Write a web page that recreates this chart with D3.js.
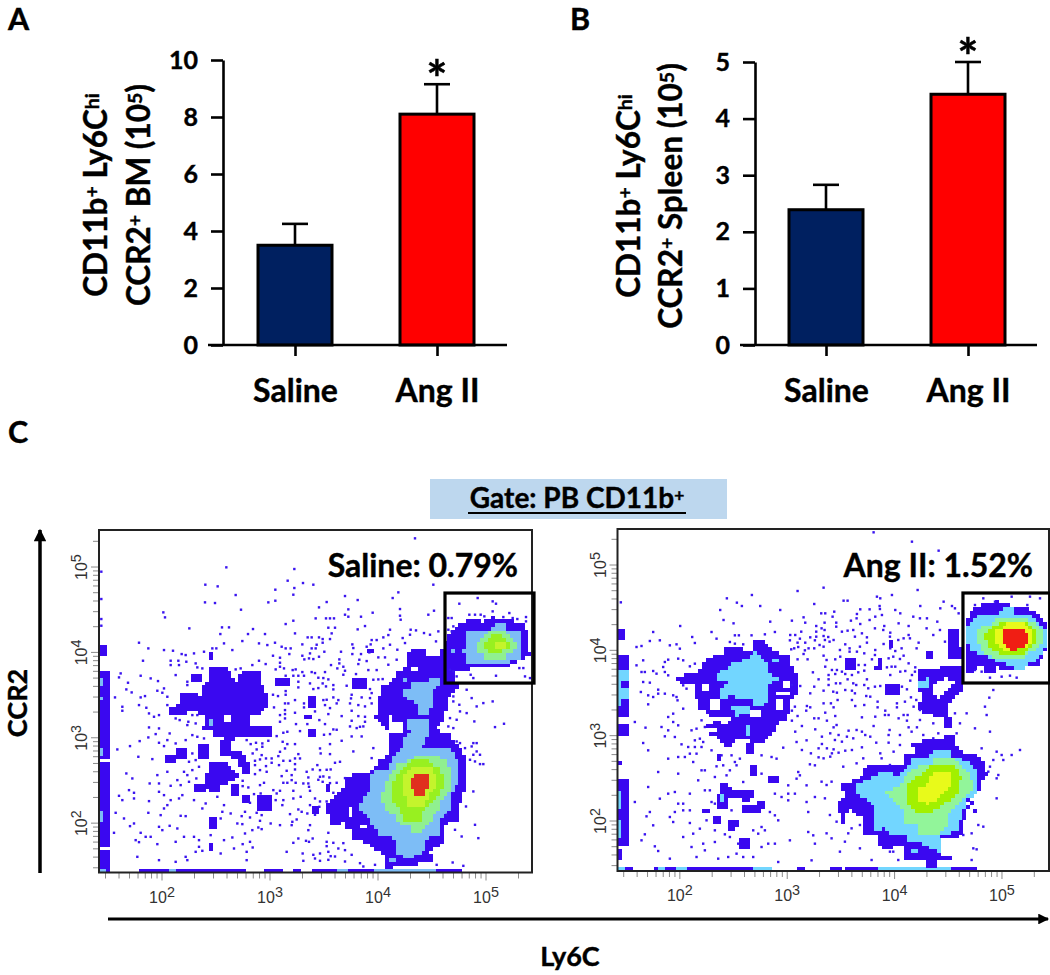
<!DOCTYPE html>
<html>
<head>
<meta charset="utf-8">
<script src="https://cdnjs.cloudflare.com/ajax/libs/d3/7.8.5/d3.min.js"></script>
<style>
  html, body { margin: 0; background: #fff; }
  text { font-family: Lato, "Open Sans", sans-serif; font-weight: 700; fill: #000; stroke: #000; stroke-width: 0.4px; }
  .flowtick text { font-family: "Liberation Sans", Arial, sans-serif; font-weight: 400; fill: #333; stroke: none; }
</style>
</head>
<body>
<div id="chart"></div>
<script>
const width = 1050
const height = 975

// bar panels
const groups = ["Saline", "Ang II"]
const bmMeans = [3.5, 8.1]
const bmTops = [4.25, 9.15]
const bmTicks = [0, 2, 4, 6, 8, 10]
const spleenMeans = [2.39, 4.43]
const spleenTops = [2.83, 5.0]
const spleenTicks = [0, 1, 2, 3, 4, 5]
const barColors = ["#002060", "#ff0000"]

// flow panels: everything below is in log channels (3 channels = 1 screen px)
const decades = [2, 3, 4, 5]

const salineTickX = [189, 513, 837, 1161]
const salineTickY = [148, 406, 664, 916]
const salineGate = [1038, 568, 1305, 838]

// [[x,y],[x,y]] with two points is a box
const salineDark = [
  [[2,602],[30,337]], [[2,327],[30,127]], [[2,127],[30,82]], [[2,62],[28,12]], [[2,677],[18,652]],
  [[126,0],[214,10]], [[235,0],[395,12]], [[395,0],[445,10]], [[493,0],[545,10]], [[581,0],[607,10]], [[641,0],[720,10]], [[751,0],[824,12]], [[1017,0],[1086,10]], [[2,0],[38,10]],
  [[212,492],[240,507],[248,539],[270,542],[305,532],[310,557],[332,572],[332,615],[385,619],[405,572],[415,572],[420,592],[440,605],[485,602],[487,562],[510,532],[512,502],[495,492],[510,485],[480,477],[450,465],[445,437],[405,435],[402,407],[400,352],[360,352],[358,387],[375,402],[340,402],[335,427],[310,429],[320,475],[270,482],[258,475],[212,475]],
  [[405,405],[515,435]],
  [[400,362],[430,357],[452,319],[455,302],[428,302],[420,332],[395,347]],
  [[335,329],[365,335],[390,317],[415,297],[405,272],[360,265],[360,247],[330,245],[315,267],[315,292],[332,302]],
  [[290,245],[318,262]], [[395,227],[422,259]], [[428,209],[448,232]], [[468,192],[512,227]], [[328,137],[350,167]],
  [[198,335],[230,357]], [[235,337],[265,369]], [[295,337],[335,382]], [[275,572],[305,597]], [[530,562],[568,587]],
  [[630,492],[650,532]], [[612,459],[638,475]], [[630,404],[645,432]], [[330,635],[340,657]], [[640,177],[650,192]], [[328,67],[345,92]],
  [[761,546],[801,583]], [[641,178],[658,198]], [[678,243],[695,260]], [[801,656],[828,666]],
  [[923,663],[953,673],[978,668],[985,653],[1018,650],[1033,683],[1048,708],[1083,743],[1108,758],[1153,753],[1183,765],[1233,760],[1273,743],[1288,708],[1293,653],[1263,638],[1228,620],[1183,620],[1153,618],[1103,608],[1065,598],[1078,558],[1053,533],[1038,483],[1023,438],[998,428],[1058,418],[1063,388],[1093,368],[1101,298],[1093,228],[1078,198],[1083,163],[1038,143],[1028,88],[993,68],[998,33],[858,13],[858,48],[808,88],[763,103],[758,133],[693,148],[681,208],[733,253],[733,288],[813,298],[843,343],[873,353],[863,438],[823,463],[843,498],[833,513],[853,558],[883,573],[888,598],[918,613]]
]
const salineHoles = [
  [[751,168],[763,193]], [[728,133],[741,153]], [[778,128],[798,140]], [[873,423],[908,446]], [[933,603],[958,620]], [[868,448],[885,478]],
  [[450,440],[500,452]], [[470,462],[495,472]], [[372,455],[392,470]]
]
const salineLight = [
  [[2,565],[12,587]], [[2,515],[12,532]], [[2,355],[12,369]], [[2,157],[12,192]], [[335,443],[345,459]], [[2,0],[22,10]],
  [[214,0],[235,10]], [[720,0],[751,10]], [[824,0],[1017,10]],
  [[923,458],[995,460],[995,428],[978,398],[973,378],[1058,368],[1078,338],[1078,278],[1058,228],[1058,198],[1023,158],[1018,108],[983,103],[978,68],[948,48],[925,48],[895,53],[895,103],[838,108],[838,123],[803,168],[785,188],[785,208],[813,248],[813,298],[868,313],[883,348],[908,378],[908,408],[933,418]],
  [[873,33],[895,48]],
  [[996,586],[1018,586],[1018,563],[998,548],[995,478],[958,478],[948,513],[908,533],[908,543],[933,553],[933,573],[973,568]],
  [[913,573],[923,586]],
  [[1191,748],[1218,748],[1218,730],[1263,730],[1265,693],[1271,638],[1228,638],[1228,623],[1153,623],[1153,628],[1098,628],[1098,653],[1091,668],[1105,683],[1105,728],[1148,728],[1191,733]],
  [[1058,660],[1068,675]]
]
const salineMint = [
  [[945,353],[1018,353],[1018,338],[1045,338],[1058,293],[1053,248],[1021,208],[1018,188],[975,128],[935,123],[935,143],[898,148],[883,178],[858,188],[848,223],[863,278],[883,308],[903,333],[945,338]],
  [[1171,728],[1218,728],[1218,713],[1243,708],[1255,678],[1228,658],[1213,638],[1158,638],[1153,658],[1128,668],[1141,703],[1168,713]]
]
const salineGreen = [
  [[945,338],[983,338],[1018,316],[1035,293],[1033,258],[1018,228],[995,213],[968,178],[968,158],[915,156],[908,178],[883,218],[883,268],[895,298],[923,326]],
  [[1178,710],[1213,710],[1233,690],[1228,673],[1203,661],[1173,660],[1158,673],[1158,693]]
]
const salineYellow = [
  [[943,316],[995,316],[1018,288],[1008,253],[985,228],[983,198],[925,193],[923,228],[908,253],[908,288]],
  [[1190,676],[1218,693]]
]
const salineRed = [
  [[948,300],[995,298],[993,268],[978,248],[973,228],[951,228],[935,258],[935,278]]
]
const salineEvents = [
  [583,833],[738,829],[776,817],[683,811],[660,795],[748,789],[738,773],[748,767],[786,767],[821,779],[650,762],[681,762],[693,762],[705,762],[688,755],[583,755],[560,745],[798,739],[688,734],[708,734],[776,729],[588,717],[698,717],[626,705],[638,705],[660,705],[671,700],[693,700],[853,705],[868,712],[818,697],[833,697],[671,689],[610,684],[528,689],[760,684],[815,684],[548,677],[560,672],[575,672],[638,672],[650,672],[803,677],[853,672],[543,672],[676,662],[726,662],[633,657],[571,655],[522,650],[543,644],[610,650],[643,640],[660,647],[616,639],[721,639],[760,655],[786,655],[838,645],[803,634],[858,645],[543,629],[721,627],[778,625],[696,622],[733,617],[715,612],[543,617],[581,607],[610,601],[638,601],[678,601],[738,605],[771,595],[808,607],[833,607],[560,590],[583,590],[598,590],[615,590],[658,584],[688,579],[838,579],[598,572],[633,567],[671,567],[703,562],[743,560],[560,544],[598,555],[643,550],[703,549],[813,550],[522,533],[537,529],[560,533],[703,525],[588,517],[615,507],[558,507],[568,507],[673,517],[718,517],[756,522],[788,525],[615,495],[678,502],[713,507],[753,507],[525,495],[558,487],[778,502],[818,507],[588,479],[688,475],[758,485],[558,475],[543,472],[558,462],[728,469],[778,469],[798,467],[543,452],[661,457],[758,455],[591,445],[625,445],[678,445],[798,452],[703,429],[783,437],
  [533,409],[553,419],[565,422],[603,424],[693,415],[675,413],[728,395],[443,397],[455,385],[471,389],[508,395],[551,392],[558,387],[588,385],[565,385],[663,372],[693,385],[473,369],[558,372],[543,362],[665,357],[693,355],[461,357],[488,352],[538,349],[598,355],[588,342],[468,335],[483,339],[501,342],[518,342],[553,335],[573,335],[603,342],[723,332],[708,329],[518,329],[468,322],[588,325],[501,319],[655,322],[641,309],[663,307],[695,309],[483,307],[503,302],[563,305],[588,309],[623,302],[468,295],[548,289],[578,292],[628,285],[663,287],[691,285],[713,269],[431,275],[483,262],[495,269],[553,269],[565,269],[578,277],[671,272],[613,267],[628,267],[431,259],[448,255],[523,247],[543,245],[583,245],[633,245],[703,239],[465,235],[533,237],[553,217],[583,222],[605,227],[648,222],[453,209],[551,215],[633,202],[661,197],[438,182],[473,179],[488,172],[598,189],[608,182],[573,175],[593,159],[428,169],[453,165],[483,155],[468,172],[578,142],[633,142],[628,127],[543,142],[515,147],[478,135],[488,130],[438,117],[688,119],[453,92],[431,85],[598,102],[621,95],[641,102],[683,92],[683,79],[703,89],[461,75],[583,89],[563,62],[611,57],[443,62],[663,57],[648,42],[663,35],[688,62],[695,49],[718,72],[738,67],[613,35],[443,37],
  [120,689],[148,672],[195,667],[222,665],[248,655],[260,652],[285,657],[315,662],[340,672],[352,672],[375,687],[400,667],[430,694],[480,687],[505,682],[545,677],[570,675],[608,685],[630,655],[215,635],[238,635],[262,632],[290,627],[132,635],[215,622],[240,622],[295,615],[310,612],[410,609],[425,612],[460,622],[480,635],[500,625],[530,609],[555,612],[590,609],[612,589],[630,642],[65,597],[60,585],[125,590],[155,582],[177,574],[87,569],[230,592],[265,572],[265,562],[195,552],[175,545],[82,549],[98,540],[125,525],[48,525],[138,529],[205,527],[190,539],[70,497],[70,485],[120,502],[142,494],[205,502],[150,477],[165,467],[180,472],[230,462],[242,457],[268,452],[280,472],[265,442],[295,472],[290,447],[150,435],[180,432],[212,417],[170,415],[148,405],[122,394],[93,379],[55,369],[118,347],[160,340],[205,397],[230,387],[280,412],[295,407],[260,397],[315,402],[195,379],[180,389],[280,357],[270,332],[290,337],[280,307],[265,292],[255,302],[300,317],[82,297],[100,282],[175,292],[205,302],[152,267],[180,267],[245,262],[215,260],[235,277],[270,272],[292,282],[60,230],[70,217],[90,247],[105,239],[105,222],[150,214],[180,242],[195,232],[215,217],[240,222],[250,232],[285,217],[205,202],[195,192],[50,179],[148,179],[75,162],[105,147],[93,139],[185,172],[245,170],[260,169],[310,192],[320,207],[355,227],[375,202],[370,182],[395,177],[365,162],[415,147],[430,145],[180,137],[212,140],[190,127],[235,132],[125,119],[140,107],[45,119],[110,97],[120,91],[155,107],[175,85],[230,92],[225,85],[255,107],[285,107],[300,97],[335,112],[340,107],[375,97],[400,105],[440,119],[460,127],[480,132],[515,147],[543,140],[580,152],[115,47],[180,37],[230,32],[260,47],[265,37],[290,62],[310,65],[300,77],[365,57],[405,72],[450,92],[460,77],[435,37],[565,65],[595,102],[620,97],[630,92],[610,55],[615,37],[625,127],[575,142],[490,387],[490,377],[510,342],[555,392],[570,377],[590,382],[595,352],[595,342],[540,322],[560,302],[580,297],[620,302],[630,287],[570,267],[590,269],[630,257],[540,247],[525,247],[485,237],[470,242],[530,217],[550,202],[560,217],[600,192],[575,177],[580,147],[625,177],
  [1003,863],[898,840],[881,823],[736,830],[776,818],[681,813],[660,796],[748,790],[738,773],[748,768],[820,778],[788,768],[648,763],[681,763],[693,763],[705,763],[686,736],[708,733],[776,728],[858,710],[873,728],[903,790],[903,770],[905,758],[988,773],[993,768],[1005,785],[935,728],[951,726],[1018,723],[975,718],[993,713],[1011,693],[933,713],[911,703],[838,703],[823,698],[813,688],[803,683],[758,683],[763,673],[661,708],[671,693],[688,703],[698,718],[641,703],[653,683],[648,673],[725,663],[683,658],[811,660],[858,648],[895,668],[918,688],[873,683],[893,638],[868,623],[833,638],[838,613],[805,628],[781,638],[693,623],[721,638],[733,618],[708,608],[733,593],[648,598],[673,583],[693,578],[658,553],[681,558],[703,558],[813,553],[843,583],[823,578],[851,580],[738,558],[708,533],[683,518],[723,518],[813,523],[818,538],[758,533],[748,508],[773,498],[798,498],[723,468],[693,493],[668,458],[648,483],[683,438],[713,428],[753,438],[773,433],[793,438],[758,408],[788,408],[753,448],[663,378],[693,388],[723,388],[763,363],[823,373],[818,343],[663,358],[693,353],[718,333],[683,308],[643,308],[658,278],[693,268],[738,283],[673,288],[643,223],[663,213],[683,213],[648,173],[633,138],[683,88],[688,68],[698,93],[733,88],[758,53],[643,53],[658,38],[688,38],[708,48],[738,33],[783,28],[793,18],[828,23],[1013,23],[1061,30],[1093,20],[1101,198],[1123,243],[1128,143],[1138,103],[1088,108],[1068,128],[1043,173],[1073,458],[1118,523],[1133,498],[1153,508],[1181,513],[1188,436],[1215,446],[1126,453],[1103,478],[1083,483],[1063,513],[1081,503],[1103,548],[1063,528],[1123,388],[1133,388],[1133,363],[1143,353],[1153,325],[1143,325],[1128,333],[1113,338],[1123,353],[1073,393],[1083,388],[1098,373],[1118,378],[1063,433],[1053,463],[1048,438],
  [1136,823],[1081,806],[1181,813],[1191,806],[1181,783],[1173,778],[1231,778],[1111,773],[1128,773],[1145,773],[1156,768],[1213,766],[1241,763],[1255,760],[1281,766],[1281,753],[1273,758],[1058,763],[1048,763],[1063,738],[1058,723],[1048,728],[1273,613],[1261,613],[1278,588],[1293,583],[1123,583],[1191,590],[1115,593],[1073,588],[1053,608],[1063,603],
  [948,1002],[586,910],[382,915],[7,902],[319,863],[356,858],[529,848],[566,875],[612,868],[643,863],[586,853],[7,820],[410,832],[318,810],[348,808],[426,788],[508,810],[529,815],[193,780],[198,765],[736,830],[680,817],[659,798],[747,790],[1005,863],[897,843],[881,825],[772,820],[685,765],[705,765],[648,765],[560,750],[581,760],[7,760],[7,740],[902,790],[990,775],
  [271,732],[369,735],[390,735],[462,730],[498,715],[364,715],[447,715],[121,692]
]

const angTickX = [187, 508, 829, 1153]
const angTickY = [150, 408, 663, 918]
const angGate = [1036, 564, 1297, 834]

const angDark = [
  [[2,690],[17,722]], [[2,457],[28,650]], [[2,404],[28,442]], [[2,314],[14,327]], [[2,82],[28,277]], [[2,32],[16,62]],
  [[23,0],[40,10]], [[112,0],[122,10]], [[144,0],[172,10]], [[210,0],[412,12]], [[538,0],[566,10]], [[638,0],[666,10]], [[678,0],[783,10]], [[1003,0],[1048,10]], [[1048,0],[1076,6]],
  [[174,579],[207,594],[254,602],[262,637],[322,654],[322,667],[362,667],[407,660],[407,687],[427,697],[447,677],[470,657],[517,647],[522,612],[542,587],[544,542],[522,522],[517,487],[502,457],[482,442],[457,402],[432,387],[397,390],[362,397],[332,372],[317,377],[302,397],[272,412],[267,437],[292,447],[332,442],[342,460],[282,464],[247,487],[232,532],[232,557],[207,562],[182,567]],
  [[384,354],[412,382]], [[292,334],[310,352]], [[392,282],[422,314]], [[454,264],[482,287]],
  [[307,264],[332,262],[337,244],[367,242],[402,247],[412,222],[387,212],[337,227],[332,192],[297,192],[297,227],[307,232]],
  [[367,192],[412,197],[432,215],[442,212],[440,192],[407,170],[370,174]],
  [[250,172],[280,192]], [[284,139],[312,167]], [[332,157],[357,157],[370,147],[352,122],[332,127]], [[367,67],[400,100]],
  [[982,403],[1007,403],[1007,378],[1027,368],[1032,348],[1077,348],[1102,328],[1107,288],[1087,268],[1082,233],[1047,208],[1052,193],[1032,128],[1027,103],[972,98],[967,48],[1002,43],[992,33],[912,28],[862,38],[857,78],[812,68],[782,73],[779,108],[737,113],[735,158],[692,188],[677,143],[657,208],[682,218],[672,258],[732,283],[742,313],[802,323],[852,313],[857,348],[892,348],[882,388],[947,393]],
  [[1052,773],[1072,793],[1107,800],[1142,810],[1197,793],[1247,783],[1282,748],[1287,678],[1267,623],[1207,606],[1147,606],[1132,620],[1129,593],[1102,590],[1097,618],[1077,620],[1069,588],[1042,590],[1042,708]],
  [[992,723],[1019,723],[1019,678],[1035,658],[1027,636],[992,638]],
  [[932,670],[957,636],[917,636]],
  [[897,608],[967,603],[972,618],[1032,618],[1039,558],[1017,523],[992,503],[997,468],[962,460],[907,483],[905,508],[919,518],[905,548],[897,573]],
  [[979,428],[997,463]],
  [[807,528],[847,563]], [[685,603],[714,633]], [[769,606],[797,620]], [[786,620],[796,636]], [[809,676],[825,693]],
  [[1052,196],[1067,208]], [[1062,175],[1077,188]], [[927,13],[959,30]]
]
const angHoles = [
  [[254,540],[272,564]], [[277,487],[307,517]], [[397,460],[432,482]], [[470,532],[514,544]], [[497,552],[514,567]], [[277,422],[297,427]], [[472,487],[492,512]], [[432,647],[462,654]],
  [[947,558],[982,583],[1012,568],[997,546],[957,518],[947,538]]
]
const angLight = [
  [[2,570],[28,602]], [[2,547],[14,570]], [[2,514],[28,547]], [[2,494],[14,514]], [[2,182],[14,242]], [[2,102],[12,152]],
  [[0,0],[18,10]], [[122,0],[144,10]], [[172,0],[210,10]], [[412,0],[460,10]], [[783,0],[1003,10]],
  [[344,622],[392,637],[404,657],[427,652],[432,637],[454,617],[457,587],[487,587],[487,572],[454,564],[454,517],[434,500],[407,500],[402,514],[357,514],[354,530],[307,517],[304,547],[322,550],[327,567],[294,572],[294,597],[327,602]],
  [[344,497],[392,497],[392,477],[362,477],[360,460],[347,477]],
  [[467,622],[487,637]],
  [[377,442],[390,442],[404,404],[390,404],[390,422]],
  [[304,210],[317,227]],
  [[942,368],[999,368],[1002,346],[1047,333],[1077,298],[1077,228],[1047,213],[1032,168],[1022,123],[967,103],[965,53],[907,88],[872,88],[867,113],[817,113],[772,148],[767,198],[712,238],[712,258],[737,268],[792,298],[847,288],[887,338],[942,348]],
  [[879,50],[902,68]], [[772,123],[792,138]],
  [[1155,796],[1185,796],[1185,773],[1247,763],[1272,733],[1287,723],[1287,678],[1267,638],[1219,618],[1217,606],[1187,606],[1185,620],[1147,623],[1132,636],[1092,653],[1052,660],[1047,728],[1072,763],[1127,773],[1152,778]],
  [[907,548],[932,570]], [[929,570],[940,586]]
]
const angMint = [
  [[942,336],[1007,336],[1047,308],[1065,268],[1062,238],[1032,213],[992,178],[992,143],[962,113],[907,113],[902,138],[857,148],[852,188],[797,238],[842,253],[869,288],[897,313],[942,318]],
  [[1135,763],[1212,763],[1247,748],[1272,728],[1272,678],[1232,653],[1207,638],[1147,636],[1102,653],[1075,693],[1087,733],[1135,748]]
]
const angGreen = [
  [[942,315],[1012,315],[1029,283],[1027,238],[997,213],[947,183],[907,173],[869,203],[869,258],[897,283]],
  [[1147,746],[1227,746],[1259,723],[1259,688],[1217,653],[1157,650],[1117,668],[1099,708],[1117,728]]
]
const angYellow = [
  [[952,300],[1002,300],[1002,268],[982,238],[952,213],[932,198],[907,213],[907,248],[932,268],[939,283]],
  [[1175,746],[1212,746],[1242,728],[1247,683],[1197,663],[1152,663],[1132,686],[1132,718],[1152,733]]
]
const angRed = [
  [[1162,730],[1212,730],[1235,708],[1232,680],[1202,673],[1197,661],[1175,661],[1172,676],[1152,683],[1152,713]]
]
const angEvents = [
  [540,840],[823,828],[778,823],[788,818],[678,811],[690,811],[590,801],[786,795],[756,785],[833,783],[650,778],[611,773],[623,773],[718,771],[645,763],[558,761],[773,763],[793,768],[756,753],[700,751],[523,751],[563,745],[621,745],[656,745],[728,741],[800,735],[843,743],[873,735],[596,735],[656,733],[621,723],[596,718],[690,721],[673,718],[733,713],[818,715],[873,708],[551,718],[533,708],[518,708],[596,703],[578,701],[596,698],[618,705],[648,693],[748,701],[858,698],[636,688],[563,685],[540,685],[606,678],[748,685],[683,680],[798,681],[903,685],[521,665],[590,668],[573,668],[618,673],[696,668],[833,660],[530,668],[718,658],[740,653],[773,663],[793,673],[558,651],[618,646],[818,668],[858,646],[696,658],[668,643],[540,635],[570,635],[653,635],[763,635],[813,638],[873,623],[808,611],[623,613],[643,603],[658,603],[673,598],[723,618],[833,613],[863,600],[586,596],[740,601],[893,611],[653,591],[633,588],[683,591],[703,588],[603,575],[633,575],[748,575],[818,588],[848,598],[883,588],[878,571],[596,575],[633,558],[655,563],[668,563],[716,558],[740,558],[690,575],[788,555],[548,555],[523,558],[590,553],[853,553],[618,541],[578,533],[658,535],[683,543],[703,541],[868,545],[880,521],[746,525],[758,523],[660,513],[780,508],[703,513],[896,513],[618,503],[640,503],[713,495],[740,498],[838,503],[568,495],[578,491],[648,491],[708,488],[838,491],[888,493],[532,493],[566,481],[780,491],[523,481],[623,475],[803,481],[813,468],[540,465],[590,458],[603,458],[653,465],[733,461],[773,463],[858,468],[870,468],[523,451],[628,451],[843,458],[868,451],[553,435],[648,431],[693,421],[733,418],[898,431],[873,431],[593,425],[533,418],[816,423],[768,435],[638,413],[663,408],[613,403],[743,408],[758,403],[813,408],[776,385],[688,403],[673,388],[813,385],[553,363],[613,381],[603,368],[628,368],[648,365],[683,361],[703,363],[733,371],[580,353],[643,353],[663,355],[638,343],[618,338],[603,341],[788,353],[828,358],
  [107,717],[57,672],[72,675],[97,690],[127,692],[157,677],[177,680],[187,667],[224,702],[232,684],[282,717],[297,697],[352,707],[364,707],[337,687],[352,682],[377,680],[402,707],[442,710],[472,717],[517,692],[547,697],[592,692],[632,702],[612,667],[562,662],[542,672],[57,617],[77,632],[142,627],[152,634],[182,637],[197,632],[217,614],[232,622],[137,612],[142,597],[152,587],[72,597],[107,600],[117,592],[82,597],[77,567],[97,565],[122,544],[92,527],[107,522],[122,532],[70,537],[142,532],[167,527],[177,522],[197,557],[207,547],[180,512],[92,500],[197,487],[167,472],[152,462],[52,447],[167,447],[182,437],[222,422],[252,452],[237,427],[262,432],[84,430],[132,432],[152,422],[172,402],[232,392],[247,397],[257,387],[77,384],[142,404],[92,362],[192,380],[212,372],[232,372],[252,372],[217,352],[237,352],[152,337],[182,342],[202,342],[227,327],[282,362],[312,347],[342,347],[367,337],[352,327],[432,347],[462,342],[477,337],[497,370],[537,387],[577,320],[592,317],[567,392],[122,297],[182,292],[252,302],[262,302],[297,314],[317,317],[337,302],[357,317],[242,272],[292,282],[327,287],[377,267],[432,292],[92,252],[152,232],[172,237],[217,232],[262,242],[277,242],[282,207],[127,217],[52,207],[182,202],[197,202],[172,177],[157,162],[97,177],[87,164],[197,182],[217,182],[292,202],[342,182],[217,144],[167,147],[107,137],[82,110],[72,92],[197,102],[227,112],[247,127],[267,152],[292,122],[322,110],[337,102],[292,87],[257,82],[222,72],[112,74],[122,60],[157,37],[237,42],[262,62],[302,37],[332,42],[357,52],[377,42],[407,42],[362,82],[432,72],[452,82],[482,27],[517,92],[572,117],[587,107],[592,82],[582,32],[472,167],[457,177],[512,232],[532,232],[542,297],[567,257],[512,257],[472,232],[492,222],[572,177],[567,207],[592,222],[582,322],[537,292],[537,277],[547,287],[512,212],[472,82],[432,132],[422,112],[407,122],[442,122],[482,152],
  [768,1016],[883,988],[963,961],[618,850],[540,840],[900,843],[10,806],[403,828],[328,818],[308,783],[358,805],[373,795],[428,795],[488,783],[588,801],[613,773],[648,773],[678,813],[688,813],[778,821],[818,828],[728,785],[763,753],[848,773],[908,795],[978,808],[968,788],[1003,795],[928,758],[188,735],[348,743],[318,753],[458,748],[1023,773],
  [899,843],[777,820],[789,816],[822,828],[679,811],[689,811],[977,806],[999,788],[1012,788],[727,783],[755,783],[787,786],[832,778],[652,776],[722,770],[697,758],[717,758],[647,763],[622,746],[657,743],[612,728],[687,718],[707,723],[772,728],[797,723],[847,743],[887,763],[907,758],[932,758],[959,748],[927,728],[967,723],[947,708],[907,693],[877,698],[862,703],[842,693],[817,703],[797,678],[747,698],[712,703],[682,680],[652,693],[622,693],[727,673],[667,663],[742,653],[772,648],[852,668],[897,668],[982,688],[827,643],[847,636],[627,633],[652,633],[742,618],[822,613],[867,623],[892,598],[612,648],[637,603],[667,593],[722,596],[752,573],[627,583],[662,558],[707,563],[752,548],[772,553],[877,568],[647,538],[662,536],[712,533],[782,508],[877,518],[862,508],[642,498],[707,488],[732,463],[772,463],[802,468],[857,463],[907,483],[907,453],[947,443],[1012,473],[1047,473],[627,458],[657,438],[717,423],[737,418],[817,428],[847,408],[882,418],[917,408],[947,398],[962,413],[1017,413],[1027,443],[1072,428],[1117,418],[1107,468],[1127,543],[1115,520],[1102,493],[652,393],[672,388],[707,398],[772,388],[812,383],[612,378],[657,348],[687,368],[737,338],[787,348],[822,363],[847,378],[627,368],[717,323],[677,313],[792,338],[817,318],[1207,363],[1137,358],[1152,348],[1182,348],[1157,333],[1092,368],[1142,288],[1137,218],[1127,333],[1117,313],[1082,138],[1097,133],[1137,278],[1112,298],[627,258],[622,218],[642,268],[612,268],[637,168],[657,148],[702,128],[692,113],[682,88],[727,138],[727,68],[642,98],[667,58],[627,113],[762,33],[827,58],[817,58],[842,33],[1067,68],[1077,65],[1037,108],[1062,113],[1062,33],[767,28],
  [1097,818],[1182,823],[1237,823],[1267,818],[1132,808],[1229,798],[1072,798],[1177,586],[1152,583],[1197,580],[1117,580],[1072,603],[1092,598]
]

const salineColors = ["#3a08f0", "#7dbdf6", "#90f090", "#98f020", "#c4f42c", "#e0301e"]
const angColors = ["#3a08f0", "#72d6ff", "#92f59a", "#a2f000", "#e8fa1a", "#f01e14"]

const svg = d3.select("#chart").append("svg")
  .attr("width", width)
  .attr("height", height)
  .style("display", "block")

const defs = svg.append("defs")
defs.append("marker").attr("id", "head")
  .attr("viewBox", "0 0 10 10").attr("refX", 9).attr("refY", 5)
  .attr("markerWidth", 4).attr("markerHeight", 3.6).attr("orient", "auto")
  .append("path").attr("d", "M0,0L10,5L0,10z").attr("fill", "#000")

function panelLetter(s, x, y) {
  svg.append("text").attr("x", x).attr("y", y).attr("font-size", 30.5).text(s)
}

// text with raised pieces, parts are [string, isSup]
function richText(sel, parts, size, supScale) {
  parts.forEach(function(p) {
    sel.append("tspan")
      .attr("font-size", p[1] ? size * (supScale || 0.62) : size)
      .attr("baseline-shift", p[1] ? "42%" : null)
      .text(p[0])
  })
}

function barPanel(o) {
  const y = d3.scaleLinear().domain(o.domain).range(o.yRange)
  const x = d3.scalePoint().domain(groups).range(o.xRange)
  const g = svg.append("g")

  // error bars
  g.selectAll(".err").data(groups).join("line")
    .attr("x1", d => x(d)).attr("x2", d => x(d))
    .attr("y1", (d, i) => y(o.means[i])).attr("y2", (d, i) => y(o.tops[i]))
    .attr("stroke", "#000").attr("stroke-width", 2.6)
  g.selectAll(".cap").data(groups).join("line")
    .attr("x1", d => x(d) - 13).attr("x2", d => x(d) + 13)
    .attr("y1", (d, i) => y(o.tops[i])).attr("y2", (d, i) => y(o.tops[i]))
    .attr("stroke", "#000").attr("stroke-width", 2.6)

  g.selectAll(".bar").data(groups).join("rect")
    .attr("x", d => x(d) - 37)
    .attr("width", 74)
    .attr("y", (d, i) => y(o.means[i]))
    .attr("height", (d, i) => y(0) - y(o.means[i]))
    .attr("fill", (d, i) => barColors[i])
    .attr("stroke", "#000")
    .attr("stroke-width", 3)

  const left = g.append("g")
    .attr("transform", "translate(" + o.axisX + ",0)")
    .call(d3.axisLeft(y).tickValues(o.ticks).tickFormat(d3.format("d")).tickSize(12).tickSizeOuter(0).tickPadding(13))
  left.selectAll("path,line").attr("stroke", "#000").attr("stroke-width", 2.6)
  left.selectAll("text").attr("font-size", 25).attr("font-family", "Lato").attr("fill", "#000")

  const bottom = g.append("g")
    .attr("transform", "translate(0," + y(0) + ")")
    .call(d3.axisBottom(x).tickSize(11).tickSizeOuter(0).tickPadding(23))
  bottom.select("path").remove()
  bottom.selectAll("line").attr("stroke", "#000").attr("stroke-width", 2.6)
  bottom.selectAll("text").attr("font-size", 32).attr("font-family", "Lato").attr("fill", "#000")
  g.append("line")
    .attr("x1", o.axisStart).attr("x2", o.axisEnd)
    .attr("y1", y(0)).attr("y2", y(0))
    .attr("stroke", "#000").attr("stroke-width", 2.6)

  g.append("text").attr("x", x("Ang II")).attr("y", y(o.tops[1]) + 12.5)
    .attr("text-anchor", "middle").attr("font-size", 50).text("*")

  o.title.forEach(function(line, i) {
    const t = g.append("text")
      .attr("transform", "translate(" + o.titleX[i] + "," + o.titleY + ") rotate(-90)")
      .attr("text-anchor", "middle")
    richText(t, line, 31.5)
  })
}

function flowPanel(o) {
  const cell = 11
  const chX = d3.scaleLinear().domain([0, o.maxX]).range(o.frameX)
  const chY = d3.scaleLinear().domain([0, o.maxY]).range(o.frameY)
  const g = svg.append("g")

  const poly = p => p.length == 2
    ? [[p[0][0], p[0][1]], [p[1][0], p[0][1]], [p[1][0], p[1][1]], [p[0][0], p[1][1]]]
    : p
  const levels = o.levels.map(l => l.map(poly))
  const holes = o.holes.map(poly)
  const inAny = (list, pt) => list.some(p => d3.polygonContains(p, pt))

  // pseudocolor bins
  const cells = []
  for (let ix = 0; ix * cell < o.maxX; ix++) {
    for (let iy = 0; iy * cell < o.maxY; iy++) {
      const pt = [(ix + 0.5) * cell, (iy + 0.5) * cell]
      let lev = -1
      for (let k = levels.length - 1; k >= 1; k--) {
        if (inAny(levels[k], pt)) { lev = k; break }
      }
      if (lev < 0 && !inAny(holes, pt) && inAny(levels[0], pt)) lev = 0
      if (lev >= 0) cells.push({ ix: ix, iy: iy, lev: lev })
    }
  }
  g.append("g").attr("shape-rendering", "crispEdges")
    .selectAll("rect").data(cells).join("rect")
    .attr("x", d => chX(d.ix * cell))
    .attr("y", d => chY((d.iy + 1) * cell))
    .attr("width", chX(cell) - chX(0) + 0.4)
    .attr("height", chY(0) - chY(cell) + 0.4)
    .attr("fill", d => o.colors[d.lev])

  // some events were read twice from overlapping crops, keep the first reading
  const seen = []
  const events = o.events.filter(function(e) {
    const twice = seen.some(s => Math.abs(s[0] - e[0]) < 9 && Math.abs(s[1] - e[1]) < 9)
    if (!twice) seen.push(e)
    return !twice
  })
  g.append("g").selectAll("rect").data(events).join("rect")
    .attr("x", d => chX(d[0]) - 1.2)
    .attr("y", d => chY(d[1]) - 1.2)
    .attr("width", 2.4).attr("height", 2.4)
    .attr("fill", "#3a14f0")

  // log ticks, placed between the decade channels
  const logX = d3.scaleLog().domain([100, 1e5]).range([chX(o.tickX[0]), chX(o.tickX[3])])
  const logY = d3.scaleLog().domain([100, 1e5]).range([chY(o.tickY[0]), chY(o.tickY[3])])
  const minor = []
  for (let e = 1; e <= 5; e++) for (let k = 1; k <= 9; k++) minor.push(k * Math.pow(10, e))

  const ticks = g.append("g").attr("class", "flowtick")
  ticks.selectAll(".tx").data(minor.filter(v => logX(v) >= o.frameX[0] + 3 && logX(v) <= o.frameX[1] - 3)).join("line")
    .attr("x1", d => logX(d)).attr("x2", d => logX(d))
    .attr("y1", o.frameY[0]).attr("y2", d => o.frameY[0] + (String(d)[0] == "1" ? 8 : 6))
    .attr("stroke", "#8a8a8a").attr("stroke-width", 1)
  ticks.selectAll(".ty").data(minor.filter(v => logY(v) <= o.frameY[0] - 3 && logY(v) >= o.frameY[1] + 3)).join("line")
    .attr("y1", d => logY(d)).attr("y2", d => logY(d))
    .attr("x1", o.frameX[0]).attr("x2", d => o.frameX[0] - (String(d)[0] == "1" ? 8 : 6))
    .attr("stroke", "#8a8a8a").attr("stroke-width", 1)

  decades.forEach(function(e) {
    const v = Math.pow(10, e)
    const tx = ticks.append("text").attr("x", logX(v)).attr("y", o.frameY[0] + 30).attr("text-anchor", "middle")
    richText(tx, [["10", false], [String(e), true]], 16, 0.9)
    const ty = ticks.append("text")
      .attr("transform", "translate(" + (o.frameX[0] - 12) + "," + logY(v) + ") rotate(-90)")
      .attr("text-anchor", "middle")
    richText(ty, [["10", false], [String(e), true]], 16, 0.9)
  })

  g.append("rect")
    .attr("x", o.frameX[0]).attr("y", o.frameY[1])
    .attr("width", o.frameX[1] - o.frameX[0]).attr("height", o.frameY[0] - o.frameY[1])
    .attr("fill", "none").attr("stroke", "#222").attr("stroke-width", 2)

  g.append("rect")
    .attr("x", chX(o.gate[0])).attr("y", chY(o.gate[3]))
    .attr("width", chX(o.gate[2]) - chX(o.gate[0]))
    .attr("height", chY(o.gate[1]) - chY(o.gate[3]))
    .attr("fill", "none").attr("stroke", "#000").attr("stroke-width", 3.2)

  g.append("text").attr("x", o.labelX).attr("y", 577)
    .attr("text-anchor", "end").attr("font-size", 32).text(o.label)
}

panelLetter("A", 8, 30)
panelLetter("B", 570, 30)
panelLetter("C", 8, 443)

barPanel({
  means: bmMeans, tops: bmTops, ticks: bmTicks, domain: [0, 10],
  yRange: [345, 60], xRange: [295, 437], axisX: 223, axisStart: 208, axisEnd: 507,
  titleX: [107, 150], titleY: 195,
  title: [
    [["CD11b", false], ["+", true], [" Ly6C", false], ["hi", true]],
    [["CCR2", false], ["+", true], [" BM (10", false], ["5", true], [")", false]]
  ]
})

barPanel({
  means: spleenMeans, tops: spleenTops, ticks: spleenTicks, domain: [0, 5],
  yRange: [345, 62], xRange: [826, 968], axisX: 755, axisStart: 740, axisEnd: 1037,
  titleX: [640, 682], titleY: 196,
  title: [
    [["CD11b", false], ["+", true], [" Ly6C", false], ["hi", true]],
    [["CCR2", false], ["+", true], [" Spleen (10", false], ["5", true], [")", false]]
  ]
})

// gate banner, underline drawn by hand so it stays flat under the superscript
svg.append("rect").attr("x", 430).attr("y", 479).attr("width", 297).attr("height", 40).attr("fill", "#bdd7ee")
const banner = svg.append("text").attr("x", 577).attr("y", 508).attr("text-anchor", "middle")
richText(banner, [["Gate: PB CD11b", false], ["+", true]], 28)
svg.append("line").attr("x1", 468).attr("x2", 686).attr("y1", 513).attr("y2", 513)
  .attr("stroke", "#000").attr("stroke-width", 2.2)

flowPanel({
  maxX: 1299, maxY: 1027, frameX: [99, 532], frameY: [872.5, 530],
  tickX: salineTickX, tickY: salineTickY, gate: salineGate,
  levels: [salineDark, salineLight, salineMint, salineGreen, salineYellow, salineRed],
  holes: salineHoles, events: salineEvents, colors: salineColors,
  label: "Saline: 0.79%", labelX: 518
})

flowPanel({
  maxX: 1294, maxY: 1026, frameX: [617.5, 1049], frameY: [871, 529],
  tickX: angTickX, tickY: angTickY, gate: angGate,
  levels: [angDark, angLight, angMint, angGreen, angYellow, angRed],
  holes: angHoles, events: angEvents, colors: angColors,
  label: "Ang II: 1.52%", labelX: 1033
})

// big axis arrows
svg.append("line").attr("x1", 40).attr("x2", 40).attr("y1", 873).attr("y2", 530)
  .attr("stroke", "#000").attr("stroke-width", 3.5).attr("marker-end", "url(#head)")
svg.append("line").attr("x1", 108).attr("x2", 1048).attr("y1", 919).attr("y2", 919)
  .attr("stroke", "#000").attr("stroke-width", 3).attr("marker-end", "url(#head)")

svg.append("text").attr("transform", "translate(27,703) rotate(-90)")
  .attr("text-anchor", "middle").attr("font-size", 27).text("CCR2")
svg.append("text").attr("x", 570).attr("y", 966)
  .attr("text-anchor", "middle").attr("font-size", 27).text("Ly6C")
</script>
</body>
</html>
